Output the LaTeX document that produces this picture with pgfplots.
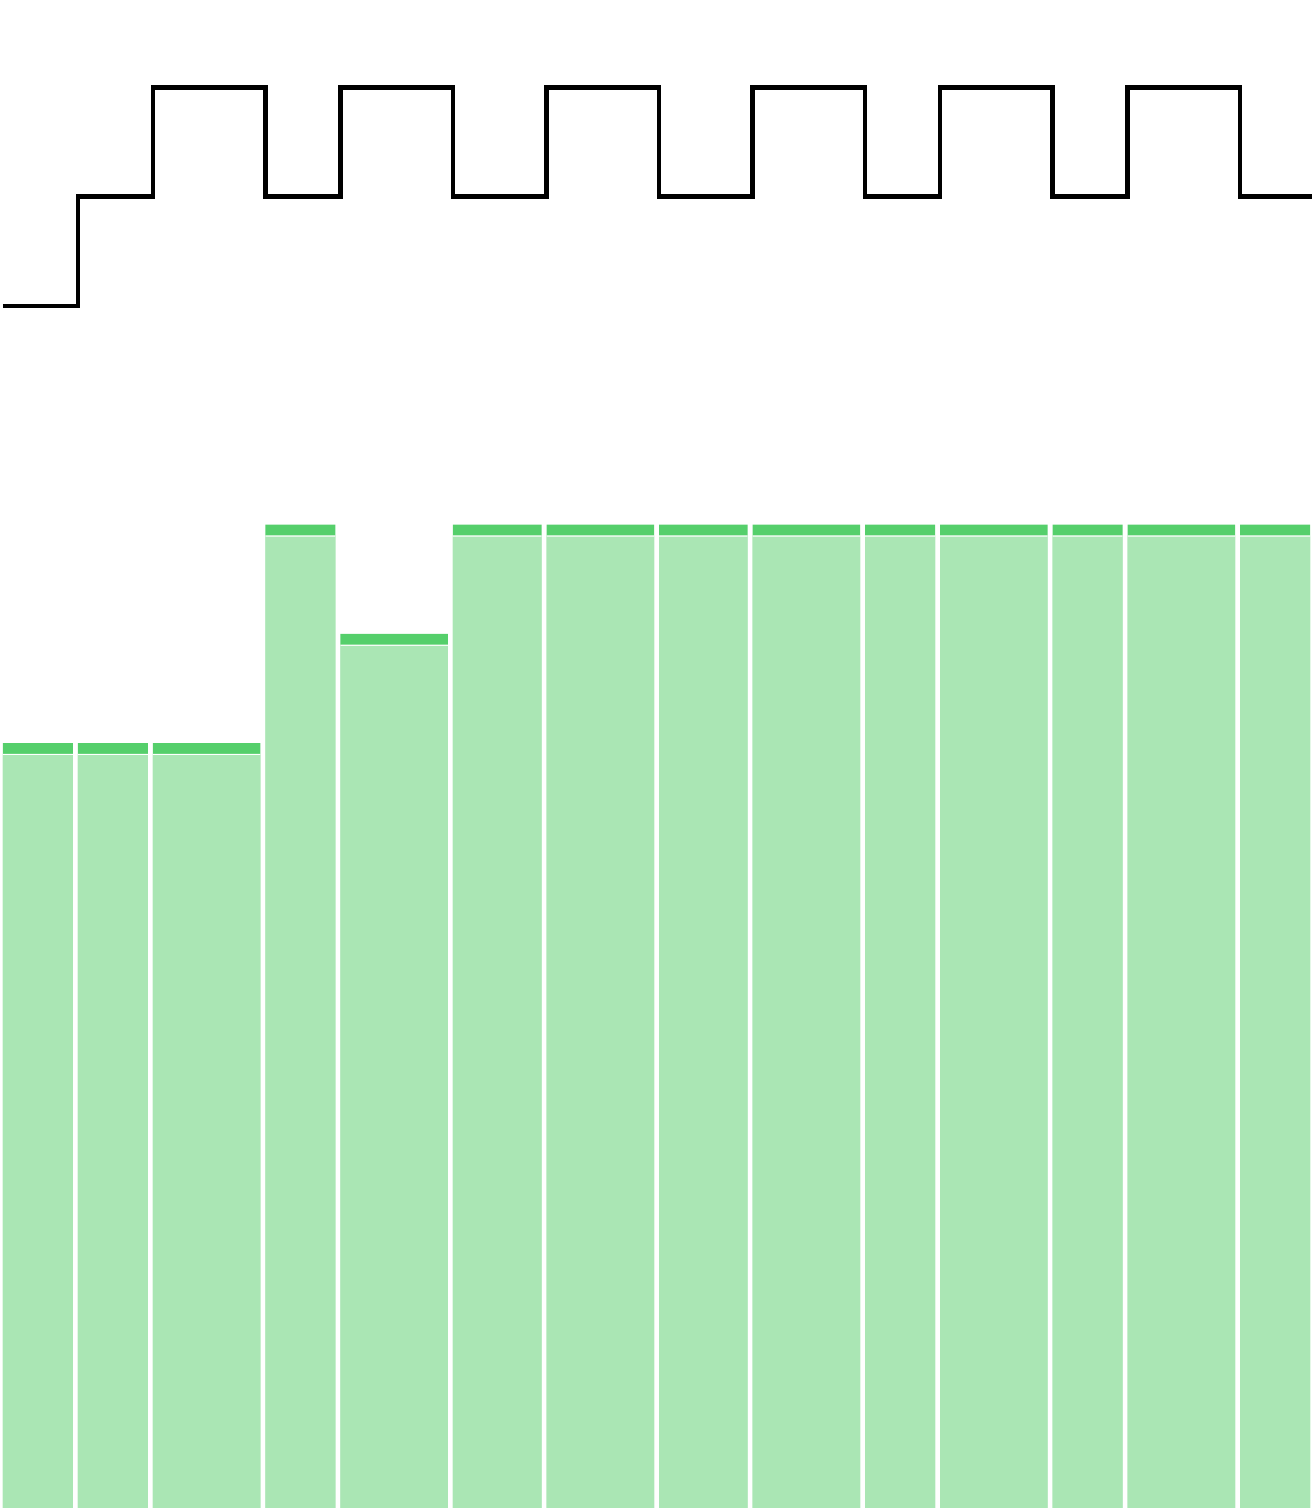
\documentclass[border=0pt]{standalone}
\usepackage{pgfplots}
\pgfplotsset{compat=1.18}
\usepackage{pgfplotstable}

\definecolor{bardark}{RGB}{85,207,107}
\definecolor{barlight}{RGB}{170,230,180}

% interval start, then gap start (height 0) -- last row closes the last bar
% h: bar top, w: white seam, l: light fill
\pgfplotstableread{
x      h   w    l
0      7   6.9  6.89
1.867  0   0    0
2      7   6.9  6.89
3.867  0   0    0
4      7   6.9  6.89
6.867  0   0    0
7      9   8.9  8.89
8.867  0   0    0
9      8   7.9  7.89
11.867 0   0    0
12     9   8.9  8.89
14.367 0   0    0
14.5   9   8.9  8.89
17.367 0   0    0
17.5   9   8.9  8.89
19.867 0   0    0
20     9   8.9  8.89
22.867 0   0    0
23     9   8.9  8.89
24.867 0   0    0
25     9   8.9  8.89
27.867 0   0    0
28     9   8.9  8.89
29.867 0   0    0
30     9   8.9  8.89
32.867 0   0    0
33     9   8.9  8.89
34.867 0   0    0
}\bars

\begin{document}
\begin{tikzpicture}
  \begin{axis}[
    width=328pt, height=377pt,
    scale only axis,
    hide axis,
    xmin=-0.08, xmax=34.92,
    ymin=0, ymax=13.8,
    ]
    \addplot[ybar interval, fill=bardark, draw=none] table[x=x, y=h] {\bars};
    \addplot[ybar interval, fill=white, draw=none] table[x=x, y=w] {\bars};
    \addplot[ybar interval, fill=barlight, draw=none] table[x=x, y=l] {\bars};

    % step signal
    \addplot[const plot, black, line width=1.15pt, line join=miter, mark=none]
      coordinates {
        (0,11) (2,12) (4,13) (7,12) (9,13) (12,12) (14.5,13)
        (17.5,12) (20,13) (23,12) (25,13) (28,12) (30,13) (33,12) (35,12)
      };
  \end{axis}
  \path (current axis.south west) rectangle (current axis.north east);
\end{tikzpicture}
\end{document}
